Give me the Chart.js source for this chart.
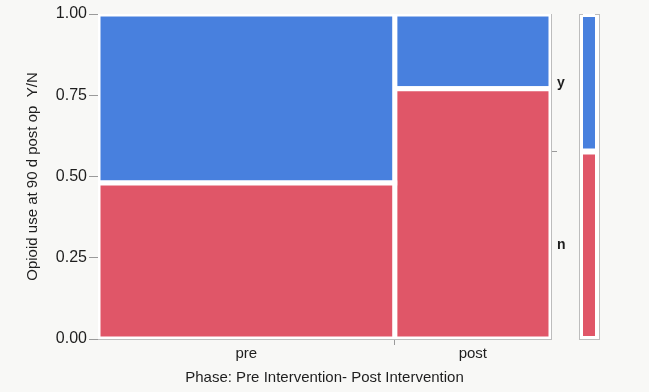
<!DOCTYPE html>
<html>
<head>
<meta charset="utf-8">
<script src="https://cdn.jsdelivr.net/npm/chart.js@4.4.1/dist/chart.umd.min.js"></script>
<style>
  html, body { margin: 0; padding: 0; background: #f8f8f6; }
  #wrap { position: relative; width: 649px; height: 392px; overflow: hidden; }
  #mainBox { position: absolute; left: 0; top: 0; }
  #sideBox { position: absolute; left: 570px; top: 0; }
</style>
</head>
<body>
<div id="wrap">
  <div id="mainBox"><canvas id="mosaicChart" width="649" height="392"></canvas></div>
  <div id="sideBox"><canvas id="marginChart" width="40" height="392"></canvas></div>
</div>
<script>
// data
var phases = ['pre', 'post'];
var phaseShare = [0.655, 0.345];      // width of each column
var shareN = [0.48, 0.77];            // fraction "n" inside each phase
var responses = ['n', 'y'];
var marginShare = [0.577, 0.423];     // overall n / y
var yTickVals = [0, 0.25, 0.5, 0.75, 1];

var blue = '#4880de';
var red = '#e05668';
var frameGrey = '#bdbdbd';
var tickGrey = '#9a9a9a';
var textCol = '#1e1e1e';
var fontFam = '"Liberation Sans", Arial, Helvetica, sans-serif';
var clear = 'rgba(0,0,0,0)';

// white plot background
var plotBg = {
    id: 'plotBg',
    beforeDraw: function (chart) {
        var a = chart.chartArea;
        var ctx = chart.ctx;
        ctx.save();
        ctx.fillStyle = '#ffffff';
        ctx.fillRect(a.left, a.top, a.right - a.left, a.bottom - a.top);
        ctx.restore();
    }
};

// mosaic cells, one closed shape per phase/response
var cells = [];
var xTickVals = [];
var xTickLabels = [];
var xTickMark = [];
var start = 0;
phases.forEach(function (p, i) {
    var end = start + phaseShare[i];
    var n = shareN[i];
    cells.push({
        label: p + ' n',
        data: [{x: start, y: 0}, {x: end, y: 0}, {x: end, y: n}, {x: start, y: n}, {x: start, y: 0}],
        backgroundColor: red
    });
    cells.push({
        label: p + ' y',
        data: [{x: start, y: n}, {x: end, y: n}, {x: end, y: 1}, {x: start, y: 1}, {x: start, y: n}],
        backgroundColor: blue
    });
    xTickVals.push((start + end) / 2);
    xTickLabels.push(p);
    xTickMark.push(false);
    if (i < phases.length - 1) {
        xTickVals.push(end);
        xTickLabels.push('');
        xTickMark.push(true);
    }
    start = end;
});
cells.forEach(function (d) {
    d.fill = 'shape';
    d.borderColor = '#ffffff';
    d.borderWidth = 5;
    d.borderJoinStyle = 'miter';
    d.pointRadius = 0;
    d.tension = 0;
    d.clip = 0;
});

var rightTickVals = [marginShare[0] / 2, marginShare[0], marginShare[0] + marginShare[1] / 2];
var rightTickLabels = [responses[0], '', responses[1]];
var rightTickMark = [false, true, false];

new Chart(document.getElementById('mosaicChart'), {
    type: 'line',
    data: { datasets: cells },
    plugins: [plotBg],
    options: {
        responsive: false,
        animation: false,
        events: [],
        layout: { padding: { left: 0, right: 78, top: 14, bottom: 0 } },
        plugins: { legend: { display: false }, tooltip: { enabled: false } },
        scales: {
            x: {
                type: 'linear', min: 0, max: 1, position: 'bottom', z: 1,
                afterBuildTicks: function (s) { s.ticks = xTickVals.map(function (v) { return {value: v}; }); },
                ticks: {
                    autoSkip: false, maxRotation: 0, padding: 0, color: textCol,
                    font: { family: fontFam, size: 15 },
                    callback: function (v, i) { return xTickLabels[i]; }
                },
                grid: {
                    drawOnChartArea: false, tickLength: 6,
                    color: function (c) { return xTickMark[c.index] ? tickGrey : clear; }
                },
                border: { color: frameGrey },
                title: {
                    display: true, text: 'Phase: Pre Intervention- Post Intervention',
                    color: textCol, font: { family: fontFam, size: 15 },
                    padding: { top: 0, bottom: 5 }
                },
                afterFit: function (s) { s.height = 53; }
            },
            x2: {
                type: 'linear', min: 0, max: 1, position: 'top', z: 1,
                ticks: { display: false }, grid: { display: false },
                border: { color: frameGrey },
                afterFit: function (s) { s.height = 0; }
            },
            y: {
                type: 'linear', min: 0, max: 1, position: 'left', z: 1,
                afterBuildTicks: function (s) { s.ticks = yTickVals.map(function (v) { return {value: v}; }); },
                ticks: {
                    padding: 2, color: textCol, font: { family: fontFam, size: 16 },
                    callback: function (v) { return v.toFixed(2); }
                },
                grid: { drawOnChartArea: false, tickLength: 9, color: tickGrey },
                border: { color: frameGrey },
                title: {
                    display: true, text: 'Opioid use at 90 d post op  Y/N',
                    color: textCol, font: { family: fontFam, size: 15 },
                    padding: { top: 24, bottom: 0 }
                },
                afterFit: function (s) { s.width = 98; }
            },
            y2: {
                type: 'linear', min: 0, max: 1, position: 'right', z: 1,
                afterBuildTicks: function (s) { s.ticks = rightTickVals.map(function (v) { return {value: v}; }); },
                ticks: {
                    padding: 0, color: textCol, font: { family: fontFam, size: 14, weight: 'bold' },
                    callback: function (v, i) { return rightTickLabels[i]; }
                },
                grid: {
                    drawOnChartArea: false, tickLength: 6,
                    color: function (c) { return rightTickMark[c.index] ? tickGrey : clear; }
                },
                border: { color: frameGrey },
                afterFit: function (s) { s.width = 20; }
            }
        }
    }
});

// marginal bar on the right
new Chart(document.getElementById('marginChart'), {
    type: 'bar',
    data: {
        labels: ['all'],
        datasets: responses.map(function (r, i) {
            return {
                label: r,
                data: [marginShare[i]],
                backgroundColor: i === 0 ? red : blue,
                borderColor: '#ffffff',
                borderWidth: { top: 3, bottom: 3, left: 0, right: 0 },
                borderSkipped: false,
                barPercentage: 0.6,
                categoryPercentage: 1
            };
        })
    },
    plugins: [plotBg],
    options: {
        responsive: false,
        animation: false,
        events: [],
        layout: { padding: { left: 9, right: 11, top: 14, bottom: 0 } },
        plugins: { legend: { display: false }, tooltip: { enabled: false } },
        scales: {
            x: {
                stacked: true, z: 1,
                ticks: { display: false }, grid: { display: false },
                border: { color: frameGrey },
                afterFit: function (s) { s.height = 53; }
            },
            x2: {
                type: 'linear', min: 0, max: 1, position: 'top', z: 1,
                ticks: { display: false }, grid: { display: false },
                border: { color: frameGrey },
                afterFit: function (s) { s.height = 0; }
            },
            y: {
                stacked: true, min: 0, max: 1, z: 1,
                ticks: { display: false }, grid: { display: false },
                border: { color: frameGrey },
                afterFit: function (s) { s.width = 0; }
            },
            y2: {
                type: 'linear', min: 0, max: 1, position: 'right', z: 1,
                ticks: { display: false }, grid: { display: false },
                border: { color: frameGrey },
                afterFit: function (s) { s.width = 0; }
            }
        }
    }
});
</script>
</body>
</html>
